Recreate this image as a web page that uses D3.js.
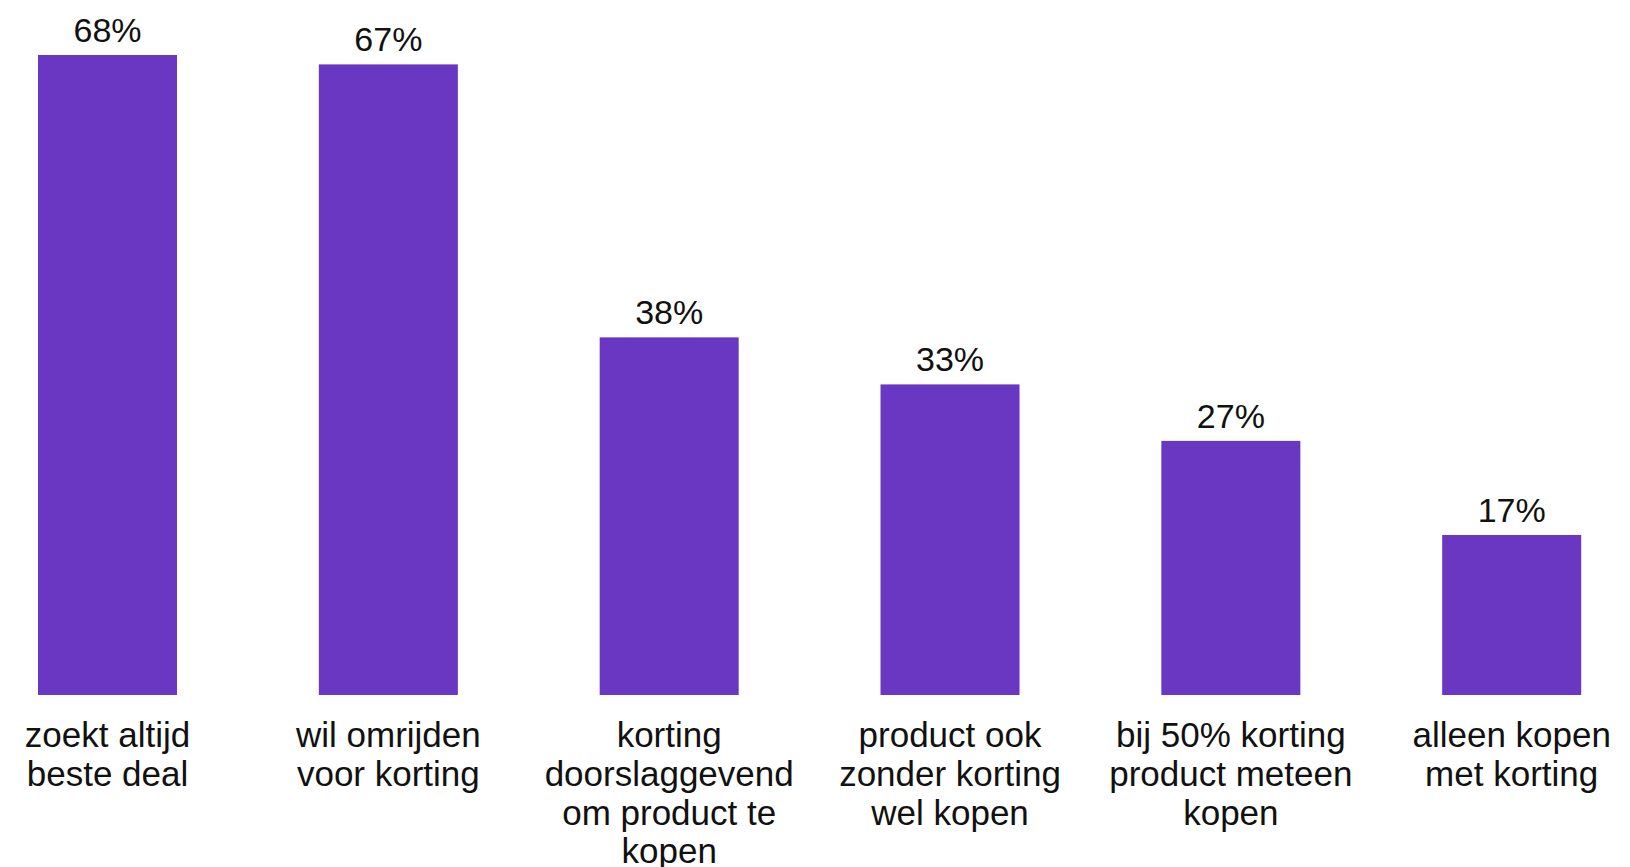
<!DOCTYPE html>
<html>
<head>
<meta charset="utf-8">
<script src="https://cdn.jsdelivr.net/npm/d3@7"></script>
<style>
  html, body { margin: 0; padding: 0; background: #fff; }
  svg { display: block; }
  text { font-family: "Liberation Sans", Arial, sans-serif; fill: #111; }
</style>
</head>
<body>
<svg id="chart" width="1630" height="867"></svg>
<script>
// Categories (one entry per bar, each split into its display lines)
const categories = [
  ["zoekt altijd", "beste deal"],
  ["wil omrijden", "voor korting"],
  ["korting", "doorslaggevend", "om product te", "kopen"],
  ["product ook", "zonder korting", "wel kopen"],
  ["bij 50% korting", "product meteen", "kopen"],
  ["alleen kopen", "met korting"]
];
const values = [68, 67, 38, 33, 27, 17];
const valueLabels = ["68%", "67%", "38%", "33%", "27%", "17%"];

const svg = d3.select("#chart");
const keys = categories.map((c, i) => i);

const x = d3.scaleBand()
  .domain(keys)
  .range([-32.9, 1652.1])
  .paddingInner(0.505)
  .paddingOuter(0.2525);

const y = d3.scaleLinear()
  .domain([0, 68])
  .range([695, 55]);

const barColor = "#6a37c2";

svg.append("g")
  .selectAll("rect")
  .data(values)
  .join("rect")
  .attr("x", (d, i) => x(i))
  .attr("y", d => y(d))
  .attr("width", x.bandwidth())
  .attr("height", d => y(0) - y(d))
  .attr("fill", barColor);

// Value labels above bars
svg.append("g")
  .selectAll("text")
  .data(values)
  .join("text")
  .attr("x", (d, i) => x(i) + x.bandwidth() / 2)
  .attr("y", d => y(d) - 13)
  .attr("text-anchor", "middle")
  .style("font-size", "34px")
  .text((d, i) => valueLabels[i]);

// Category labels below the baseline
const xAxis = d3.axisBottom(x).tickSize(0).tickFormat(() => "");
const axisG = svg.append("g")
  .attr("transform", `translate(0,${y(0)})`)
  .call(xAxis);
axisG.select(".domain").remove();

const lineHeight = 38.8;
axisG.selectAll(".tick").each(function(i) {
  const t = d3.select(this).append("text")
    .attr("text-anchor", "middle")
    .attr("y", 52)
    .style("font-size", "35px");
  categories[i].forEach((line, k) => {
    t.append("tspan")
      .attr("x", 0)
      .attr("dy", k === 0 ? 0 : lineHeight)
      .text(line);
  });
});
</script>
</body>
</html>
